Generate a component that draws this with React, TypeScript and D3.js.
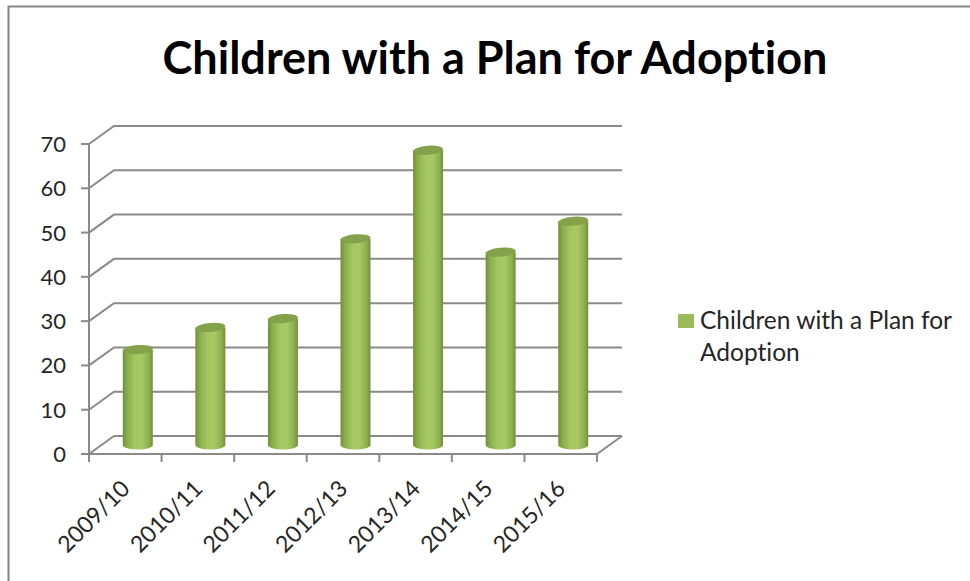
import React from "react";
import * as d3 from "d3";

const categories = ["2009/10", "2010/11", "2011/12", "2012/13", "2013/14", "2014/15", "2015/16"];
const values = [22, 27, 29, 47, 67, 44, 51];
const yTicks = [0, 10, 20, 30, 40, 50, 60, 70];
const title = "Children with a Plan for Adoption";
const legendLines = ["Children with a Plan for", "Adoption"];

const FONT = "Lato, Carlito, sans-serif";
const GRID = "#8a8a8a";
const DX = 25;
const DY = -18;

export default function App() {
  const y = d3.scaleLinear().domain([0, 70]).range([454, 144]);
  const x = d3.scaleBand().domain(categories).range([89, 597]);
  const bw = 30;
  const ry = 4.5;
  const edges = [...categories.map((c) => x(c) as number), 597];
  return (
    <svg
      width={970}
      height={581}
      style={{ position: "absolute", left: 0, top: 0, background: "#fff", fontVariantLigatures: "none" }}
    >
      <defs>
        <linearGradient id="cyl" x1="0" x2="1" y1="0" y2="0">
          <stop offset="0" stopColor="#718f3b" />
          <stop offset="0.14" stopColor="#8aab4b" />
          <stop offset="0.4" stopColor="#a5c761" />
          <stop offset="0.64" stopColor="#a7c963" />
          <stop offset="0.88" stopColor="#8cad4d" />
          <stop offset="1" stopColor="#718f3b" />
        </linearGradient>
      </defs>
      <path d="M8.5 581V6.5H970" fill="none" stroke="#868686" strokeWidth={2} />
      <text x={495} y={74} textAnchor="middle" fontFamily={FONT} fontWeight={700} fontSize={45} fill="#000">
        {title}
      </text>
      {yTicks.map((t) => (
        <g key={t}>
          <path
            d={`M${89} ${y(t)}L${89 + DX} ${y(t) + DY}H${597 + DX}`}
            fill="none"
            stroke={GRID}
            strokeWidth={2}
          />
          <line x1={81} x2={89} y1={y(t)} y2={y(t)} stroke={GRID} strokeWidth={2} />
          <text x={66} y={y(t) + 8} textAnchor="end" fontFamily={FONT} fontSize={22} fill="#262626">
            {t}
          </text>
        </g>
      ))}
      <line x1={89} x2={89} y1={y(70)} y2={y(0)} stroke={GRID} strokeWidth={2} />
      <path d={`M89 ${y(0)}H597L${597 + DX} ${y(0) + DY}`} fill="none" stroke={GRID} strokeWidth={2} />
      {edges.map((e) => (
        <line key={e} x1={e} x2={e} y1={y(0)} y2={y(0) + 8} stroke={GRID} strokeWidth={2} />
      ))}
      {categories.map((c, i) => {
        const cx = (x(c) as number) + x.bandwidth() / 2 + DX / 2;
        const top = y(values[i]) + DY / 2 + 2;
        const base = y(0) + DY / 2;
        return (
          <g key={c}>
            <path
              d={`M${cx - bw / 2} ${top}V${base}A${bw / 2} ${ry} 0 0 0 ${cx + bw / 2} ${base}V${top}Z`}
              fill="url(#cyl)"
            />
            <ellipse
              cx={cx}
              cy={top}
              rx={bw / 2}
              ry={ry}
              fill="#84a24a"
              transform={`rotate(-5 ${cx} ${top})`}
            />
          </g>
        );
      })}
      {categories.map((c) => {
        const tx = (x(c) as number) + x.bandwidth() / 2 - 7;
        return (
          <text
            key={c}
            transform={`translate(${tx},${477}) rotate(-45)`}
            textAnchor="end"
            dominantBaseline="hanging"
            fontFamily={FONT}
            fontSize={23}
            fill="#262626"
          >
            {c}
          </text>
        );
      })}
      <rect x={678} y={314} width={16} height={14} fill="#9bbb59" />
      {legendLines.map((l, i) => (
        <text key={l} x={700} y={329 + i * 32} fontFamily={FONT} fontSize={24.5} fill="#262626">
          {l}
        </text>
      ))}
    </svg>
  );
}
